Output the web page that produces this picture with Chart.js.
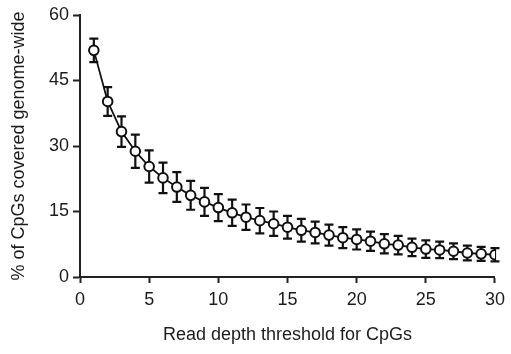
<!DOCTYPE html>
<html>
<head>
<meta charset="utf-8">
<script src="https://cdn.jsdelivr.net/npm/chart.js@4.4.1/dist/chart.umd.min.js"></script>
<style>
  html, body { margin: 0; padding: 0; background: #ffffff; }
  #wrap { width: 511px; height: 354px; }
</style>
</head>
<body>
<div id="wrap"><canvas id="grafico" width="511" height="354"></canvas></div>
<script>
// Limiar de profundidade de leitura (eixo X)
const limiares = [
  1, 2, 3, 4, 5, 6, 7, 8, 9, 10,
  11, 12, 13, 14, 15, 16, 17, 18, 19, 20,
  21, 22, 23, 24, 25, 26, 27, 28, 29, 30
];

// % de CpGs cobertos no genoma (média)
const cobertura = [
  51.9, 40.2, 33.3, 28.8, 25.3, 22.7, 20.6, 18.7, 17.2, 15.9,
  14.7, 13.7, 12.9, 12.2, 11.4, 10.7, 10.2, 9.6, 9.0, 8.6,
  8.2, 7.6, 7.3, 6.8, 6.4, 6.2, 5.9, 5.5, 5.3, 5.1
];

// Desvio (barras de erro)
const desvio = [
  2.7, 3.3, 3.5, 3.8, 3.7, 3.5, 3.4, 3.3, 3.2, 3.1,
  3.0, 2.9, 2.9, 2.8, 2.6, 2.6, 2.5, 2.4, 2.4, 2.3,
  2.2, 2.2, 2.1, 2.0, 2.0, 1.9, 1.8, 1.7, 1.6, 1.5
];

// Rótulos dos eixos
const ticksX = [0, 5, 10, 15, 20, 25, 30];
const ticksY = [0, 15, 30, 45, 60];

const corTexto = "#1c1c1c";
const fonte = "'Liberation Sans', Arial, sans-serif";

// PLUGIN: desenha as barras de erro pelas escalas do gráfico
const barrasErro = {
  id: "barrasErro",
  beforeDatasetsDraw(chart) {
    const ctx = chart.ctx;
    const sx = chart.scales.x;
    const sy = chart.scales.y;
    ctx.save();
    ctx.strokeStyle = "#111111";
    ctx.lineWidth = 2.2;
    limiares.forEach((x, i) => {
      const px = sx.getPixelForValue(x);
      const topo = sy.getPixelForValue(cobertura[i] + desvio[i]);
      const base = sy.getPixelForValue(cobertura[i] - desvio[i]);
      ctx.beginPath();
      ctx.moveTo(px, topo);
      ctx.lineTo(px, base);
      ctx.moveTo(px - 4.5, topo);
      ctx.lineTo(px + 4.5, topo);
      ctx.moveTo(px - 4.5, base);
      ctx.lineTo(px + 4.5, base);
      ctx.stroke();
    });
    ctx.restore();
  }
};

new Chart(document.getElementById("grafico"), {
  type: "line",
  data: {
    datasets: [{
      data: limiares.map((x, i) => ({ x: x, y: cobertura[i] })),
      borderColor: "#111111",
      borderWidth: 1.8,
      backgroundColor: "#ffffff",
      pointBackgroundColor: "#ffffff",
      pointBorderColor: "#111111",
      pointBorderWidth: 2,
      pointRadius: 4.8,
      tension: 0
    }]
  },
  options: {
    responsive: false,
    animation: false,
    layout: { padding: { top: 15, right: 14, left: 0, bottom: 0 } },
    plugins: {
      legend: { display: false },
      tooltip: { enabled: false }
    },
    scales: {
      x: {
        type: "linear",
        min: 0,
        max: 30,
        afterBuildTicks: (s) => { s.ticks = ticksX.map(v => ({ value: v })); },
        afterFit: (s) => { s.height = 77; },
        grid: {
          display: true,
          drawOnChartArea: false,
          drawTicks: true,
          tickLength: 6,
          tickWidth: 2,
          tickColor: "#222222"
        },
        border: { display: true, color: "#222222", width: 2 },
        ticks: {
          color: corTexto,
          font: { family: fonte, size: 18 },
          padding: 6,
          maxRotation: 0
        },
        title: {
          display: true,
          text: "Read depth threshold for CpGs",
          color: corTexto,
          font: { family: fonte, size: 18 },
          padding: { top: 0, bottom: 8 }
        }
      },
      y: {
        type: "linear",
        min: 0,
        max: 60,
        afterBuildTicks: (s) => { s.ticks = ticksY.map(v => ({ value: v })); },
        afterFit: (s) => { s.width = 80; },
        grid: {
          display: true,
          drawOnChartArea: false,
          drawTicks: true,
          tickLength: 7,
          tickWidth: 2,
          tickColor: "#222222"
        },
        border: { display: true, color: "#222222", width: 2 },
        ticks: {
          color: corTexto,
          font: { family: fonte, size: 18 },
          padding: 4
        },
        title: {
          display: true,
          text: "% of CpGs covered genome-wide",
          color: corTexto,
          font: { family: fonte, size: 18 },
          padding: { top: 8, bottom: 0 }
        }
      }
    }
  },
  plugins: [barrasErro]
});
</script>
</body>
</html>
